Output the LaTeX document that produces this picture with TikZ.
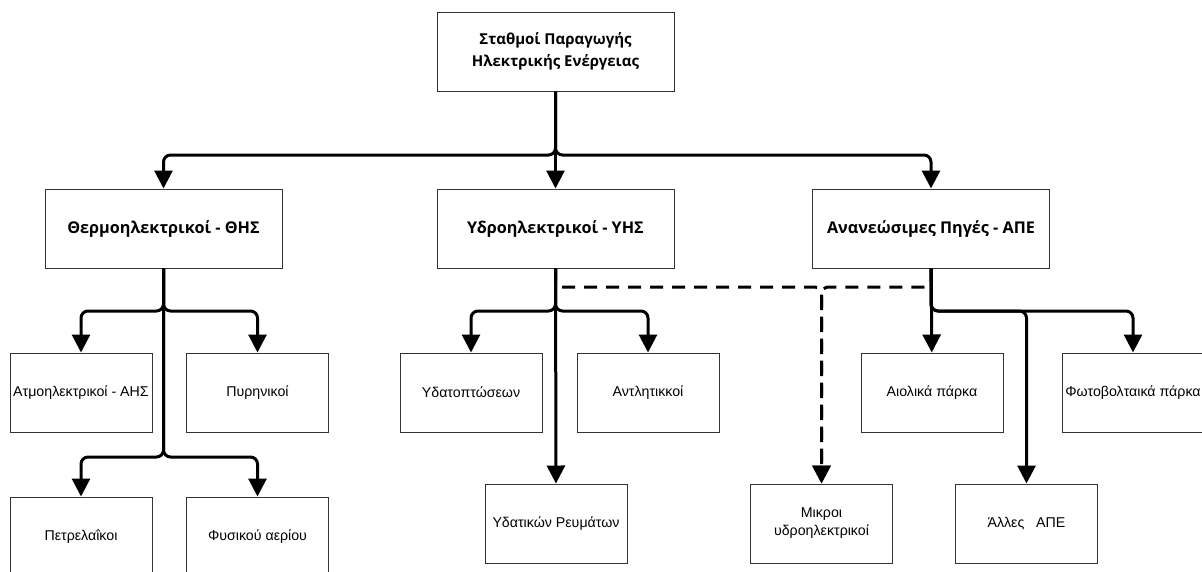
\documentclass[tikz,border=0pt]{standalone}
\usepackage{fontspec}
\setmainfont{Liberation Sans}
\newfontfamily\headfont{Open Sans}
\usetikzlibrary{arrows.meta}
\tikzset{
  box/.style={draw=black!80,line width=1pt,fill=white,minimum width=142pt,minimum height=79pt,inner sep=2pt,align=center,font=\fontsize{14.2}{18}\selectfont},
  bigbox/.style={box,minimum width=237pt,font=\headfont\bfseries\fontsize{16.2}{22}\selectfont},
  rootbox/.style={bigbox,font=\headfont\bfseries\fontsize{15}{22}\selectfont},
  conn/.style={line width=3pt,rounded corners=7pt,-{Triangle[length=18pt,width=18pt]}},
  dashconn/.style={conn,dash pattern=on 13pt off 9pt}
}
\begin{document}
\begin{tikzpicture}[x=1pt,y=-1pt]
\useasboundingbox (0,0) rectangle (1202,571);
% top levels
\node[rootbox] (root) at (555.5,51.5) {Σταθμοί Παραγωγής\\Ηλεκτρικής Ενέργειας};
\node[bigbox] (thes) at (163.5,228.5) {Θερμοηλεκτρικοί - ΘΗΣ};
\node[bigbox] (yhs) at (555.5,228.5) {Υδροηλεκτρικοί - ΥΗΣ};
\node[bigbox] (ape) at (931,228.5) {Ανανεώσιμες Πηγές - ΑΠΕ};
% leaves
\node[box] (ahs) at (81,392.5) {Ατμοηλεκτρικοί - ΑΗΣ};
\node[box] (pyr) at (257.5,392.5) {Πυρηνικοί};
\node[box] (petr) at (81,536.5) {Πετρελαΐκοι};
\node[box] (fys) at (257.5,536.5) {Φυσικού αερίου};
\node[box] (ydpt) at (471,392.5) {Υδατοπτώσεων};
\node[box] (antl) at (648,392.5) {Αντλητικκοί};
\node[box] (ydrevm) at (556,523.5) {Υδατικών Ρευμάτων};
\node[box] (mikr) at (821.5,523.5) {Μικροι\\υδροηλεκτρικοί};
\node[box] (aiol) at (932,392.5) {Αιολικά πάρκα};
\node[box] (alles) at (1026.5,523.5) {Άλλες\ \ \ ΑΠΕ};
\node[box] (fwto) at (1133,392.5) {Φωτοβολταικά πάρκα};
% bends
\coordinate (rootbus) at (555.5,155);
\coordinate (thesbus) at (163.5,311);
\coordinate (thesbus2) at (163.5,457);
\coordinate (yhsbus) at (555.5,311);
\coordinate (yhsdash) at (555.5,287);
\coordinate (apedash) at (931,287);
\coordinate (apebus) at (931,311);
% connectors
\draw[dashconn] (yhs.south) -- (yhsdash) -| (mikr.north);
\draw[dashconn] (ape.south) -- (apedash) -| (mikr.north);
\draw[conn] (root.south) -- (rootbus) -| (thes.north);
\draw[conn] (root) -- (yhs);
\draw[conn] (root.south) -- (rootbus) -| (ape.north);
\draw[conn] (thes.south) -- (thesbus) -| (ahs.north);
\draw[conn] (thes.south) -- (thesbus) -| (pyr.north);
\draw[conn] (thes.south) -- (thesbus2) -| (petr.north);
\draw[conn] (thes.south) -- (thesbus2) -| (fys.north);
\draw[conn] (yhs.south) -- (yhsbus) -| (ydpt.north);
\draw[conn] (yhs.south) -- (yhsbus) -| (antl.north);
\draw[conn] (yhs) -- (ydrevm);
\draw[conn] (ape) -- (aiol);
\draw[conn] (ape.south) -- (apebus) -| (alles.north);
\draw[conn] (ape.south) -- (apebus) -| (fwto.north);
\end{tikzpicture}
\end{document}
